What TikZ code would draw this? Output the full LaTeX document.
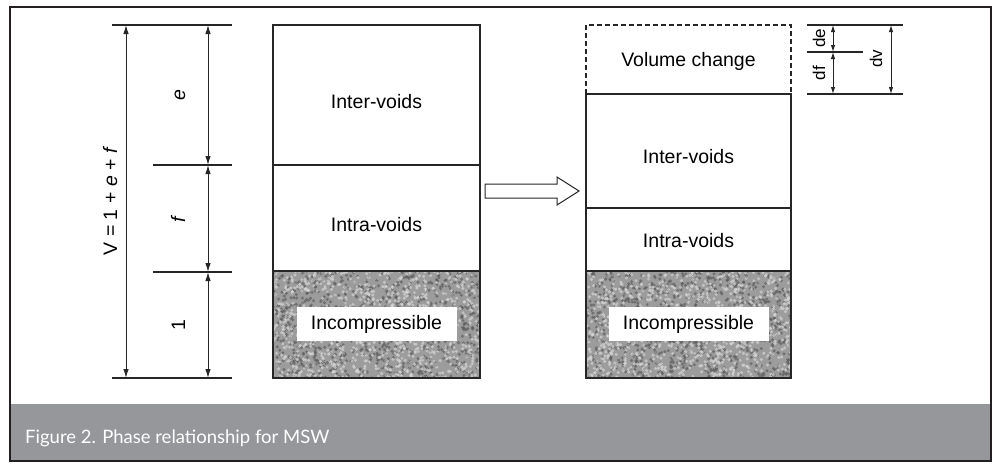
\documentclass[tikz,border=0pt]{standalone}
\usepackage{fontspec}
\setmainfont{Liberation Sans}
\newfontfamily\capfont{Lato}
\usetikzlibrary{arrows.meta}
\definecolor{framec}{HTML}{231F20}
\definecolor{bandc}{HTML}{96979B}
\definecolor{ink}{HTML}{262626}
\definecolor{grainbase}{HTML}{9C9C9C}
\definecolor{graindark}{HTML}{5E5E5E}
\definecolor{grainlight}{HTML}{D6D6D6}
\newcommand\mygrain[4]{%
  \begin{scope}
    \clip (#1,#2) rectangle (#3,#4);
    \fill[grainbase] (#1,#2) rectangle (#3,#4);
    \foreach \k in {1,...,900}{\fill[graindark,opacity=0.7] ({#1+(#3-#1)*rnd},{#2+(#4-#2)*rnd}) circle[radius=1.7pt];}
    \foreach \k in {1,...,900}{\fill[grainlight,opacity=0.7] ({#1+(#3-#1)*rnd},{#2+(#4-#2)*rnd}) circle[radius=1.7pt];}
    \foreach \k in {1,...,500}{\fill[grainbase,opacity=0.8] ({#1+(#3-#1)*rnd},{#2+(#4-#2)*rnd}) circle[radius=1.2pt];}
  \end{scope}}
\begin{document}
\begin{tikzpicture}[x=1pt,y=-1pt,
  dimline/.style={draw=ink,line width=1.1pt},
  dimarrow/.style={draw=ink,line width=1pt,{Latex[length=9pt,width=5.5pt]}-{Latex[length=9pt,width=5.5pt]}},
  smallarrow/.style={draw=ink,line width=1pt,{Latex[length=7pt,width=4.5pt]}-{Latex[length=7pt,width=4.5pt]}},
  boxline/.style={draw=ink,line width=1.2pt},
  lbl/.style={font=\fontsize{19.5}{21}\selectfont,text=black,inner sep=0pt},
  rotlbl/.style={font=\fontsize{19.5}{21}\selectfont,rotate=90,anchor=base,inner sep=0pt},
  smallrot/.style={font=\fontsize{17}{19}\selectfont,rotate=90,anchor=base,inner sep=0pt},
  whitetag/.style={fill=white,minimum width=160pt,minimum height=34pt,inner sep=0pt,font=\fontsize{19.5}{21}\selectfont}
]
\pgfmathsetseed{4242}
% canvas
\fill[white] (0,0) rectangle (997,466);
\useasboundingbox (0,0) rectangle (997,466);
% caption band
\fill[bandc] (10,404) rectangle (991,461);
\node[anchor=base west,text=white,inner sep=0pt,font=\capfont\fontsize{18.5}{21}\selectfont] (cap) at (25,443) {Figure 2. Phase relationship for MSW};

% ---------- left dimensions ----------
\coordinate (vt) at (126,25);  \coordinate (vb) at (126,378);
\coordinate (a0) at (208,25);  \coordinate (a1) at (208,165);
\coordinate (a2) at (208,272); \coordinate (a3) at (208,378);
\draw[dimline] (112,25) -- (232,25);
\draw[dimline] (153,165) -- (232,165);
\draw[dimline] (153,272) -- (232,272);
\draw[dimline] (112,378) -- (232,378);
\draw[dimarrow] (vt) -- (vb);
\draw[dimarrow] (a0) -- (a1);
\draw[dimarrow] (a1) -- (a2);
\draw[dimarrow] (a2) -- (a3);
\node[rotlbl] (vlab) at (117,201) {V = 1 + \textit{e} + \textit{f}};
\node[rotlbl] (elab) at (185,95) {\textit{e}};
\node[rotlbl] (flab) at (185,219) {\textit{f}};
\node[rotlbl] (olab) at (185,325) {1};

% ---------- left column ----------
\mygrain{273}{271}{480}{378}
\draw[boxline] (273,25) rectangle (480,271);
\draw[boxline] (273,165) -- (480,165);
\draw[draw=ink,line width=1.7pt] (273,271) rectangle (480,378);
\node[lbl] (linter) at (376.5,102) {Inter-voids};
\node[lbl] (lintra) at (376.5,225) {Intra-voids};
\node[whitetag] (linc) at (376.5,324) {Incompressible};

% ---------- block arrow ----------
\draw[draw=ink,line width=1pt,fill=white] (485,184) -- (557,184) -- (557,177) -- (579,191) -- (557,205) -- (557,198) -- (485,198) -- cycle;

% ---------- right column ----------
\mygrain{586}{271}{791}{378}
\draw[draw=ink,line width=1.2pt,dash pattern=on 5pt off 3pt] (586,94) -- (586,25) -- (791,25) -- (791,94);
\draw[boxline] (586,94) rectangle (791,271);
\draw[boxline] (586,208) -- (791,208);
\draw[draw=ink,line width=1.7pt] (586,271) rectangle (791,378);
\node[lbl] (rvol) at (688.5,61) {Volume change};
\node[lbl] (rinter) at (688.5,157) {Inter-voids};
\node[lbl] (rintra) at (688.5,241) {Intra-voids};
\node[whitetag] (rinc) at (688.5,324) {Incompressible};

% ---------- right dimensions ----------
\coordinate (d0) at (833,25); \coordinate (d1) at (833,52); \coordinate (d2) at (833,94);
\coordinate (dv0) at (891,25); \coordinate (dv1) at (891,94);
\draw[dimline] (807,25) -- (903,25);
\draw[dimline] (807,52) -- (863,52);
\draw[dimline] (807,94) -- (903,94);
\draw[smallarrow] (d0) -- (d1);
\draw[smallarrow] (d1) -- (d2);
\draw[smallarrow] (dv0) -- (dv1);
\node[smallrot] (delab) at (825,38) {de};
\node[smallrot] (dflab) at (825,73) {df};
\node[smallrot] (dvlab) at (882,59) {dv};

% frame
\draw[draw=framec,line width=2.6pt] (10,7) rectangle (991,461);
\end{tikzpicture}
\end{document}
